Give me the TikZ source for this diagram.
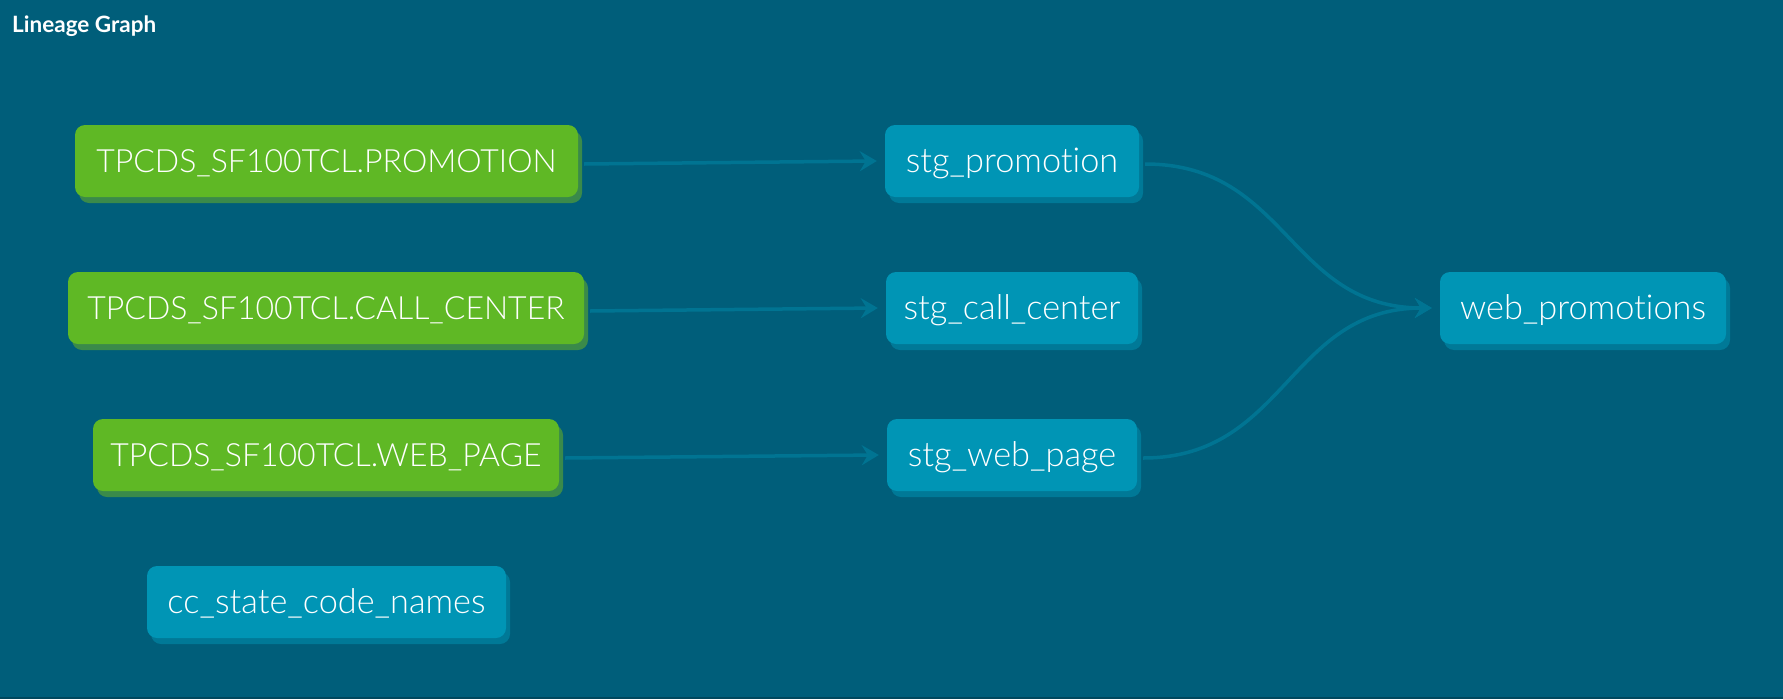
\documentclass[tikz,border=0pt]{standalone}
\usepackage{fontspec}
\setmainfont{Lato}[Ligatures=NoCommon]
\newfontfamily\lightfont{Lato}[UprightFont=* Light, Ligatures=NoCommon]
\usetikzlibrary{arrows.meta,shadows}
\definecolor{bgc}{RGB}{0,94,122}
\definecolor{bgdark}{RGB}{0,72,94}
\definecolor{greenc}{RGB}{95,184,37}
\definecolor{greensh}{RGB}{58,138,74}
\definecolor{bluec}{RGB}{0,149,181}
\definecolor{bluesh}{RGB}{0,121,151}
\definecolor{edgec}{RGB}{0,116,146}
\begin{document}
\begin{tikzpicture}[x=1pt,y=-1pt,
  nodebox/.style={rounded corners=10pt, text=white, inner sep=0pt,
    text height=24pt, text depth=1pt,
    minimum height=72pt, anchor=center},
  srcbox/.style={nodebox, fill=greenc, font=\lightfont\fontsize{32}{36}\selectfont,
    drop shadow={shadow xshift=4pt, shadow yshift=-6pt, fill=greensh, opacity=1}},
  mdlbox/.style={nodebox, fill=bluec, font=\lightfont\fontsize{34.3}{38}\selectfont,
    drop shadow={shadow xshift=4pt, shadow yshift=-6pt, fill=bluesh, opacity=1}},
  edge/.style={draw=edgec, line width=3.5pt,
    -{Stealth[length=17pt,width=20pt,inset=6pt]}}]
\fill[bgc] (0,0) rectangle (1783,699);
\fill[bgdark] (0,697) rectangle (1783,699);
\useasboundingbox (0,0) rectangle (1783,699);

\node[anchor=base west, inner sep=0pt, text=white,
  font=\bfseries\fontsize{22.5}{26}\selectfont] (title) at (12,32) {Lineage Graph};

\node[srcbox, minimum width=503pt] (p1) at (326.5,161) {TPCDS\_SF100TCL.PROMOTION};
\node[srcbox, minimum width=516pt] (p2) at (326,308) {TPCDS\_SF100TCL.CALL\_CENTER};
\node[srcbox, minimum width=466pt] (p3) at (326,455) {TPCDS\_SF100TCL.WEB\_PAGE};
\node[mdlbox, minimum width=359pt] (cc) at (326.5,602) {cc\_state\_code\_names};

\node[mdlbox, minimum width=254pt] (s1) at (1012,161) {stg\_promotion};
\node[mdlbox, minimum width=252pt] (s2) at (1012,308) {stg\_call\_center};
\node[mdlbox, minimum width=250pt] (s3) at (1012,455) {stg\_web\_page};

\node[mdlbox, minimum width=286pt] (w) at (1583,308) {web\_promotions};

\draw[edge] ([xshift=6pt,yshift=-3pt]p1.east) -- ([xshift=-8pt]s1.west);
\draw[edge] ([xshift=6pt,yshift=-3pt]p2.east) -- ([xshift=-8pt]s2.west);
\draw[edge] ([xshift=6pt,yshift=-3pt]p3.east) -- ([xshift=-8pt]s3.west);
\draw[edge] ([xshift=6pt,yshift=-3pt]s1.east) .. controls +(143,0) and +(-143,0) .. ([xshift=-8pt]w.west);
\draw[edge] ([xshift=6pt,yshift=-3pt]s3.east) .. controls +(143,0) and +(-143,0) .. ([xshift=-8pt]w.west);
\end{tikzpicture}
\end{document}
